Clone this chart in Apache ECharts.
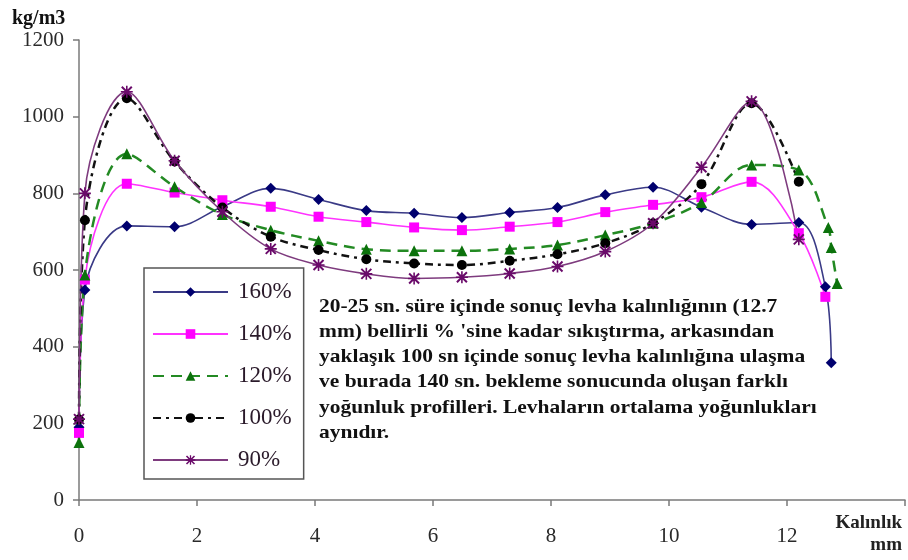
<!DOCTYPE html>
<html>
<head>
<meta charset="utf-8">
<script src="https://cdn.jsdelivr.net/npm/echarts@6/dist/echarts.min.js"></script>
<style>html,body{margin:0;padding:0;background:#fff}#c{width:908px;height:560px}</style>
</head>
<body>
<div id="c"></div>
<script>
// ---- data ----
const seriesNames = ['160%', '140%', '120%', '100%', '90%'];
const xCommon = [0, 0.1, 0.81, 1.62, 2.43, 3.25, 4.06, 4.87, 5.68, 6.49, 7.3, 8.11, 8.92, 9.73, 10.55, 11.4, 12.2];
const y160 = [190, 548, 715, 713, 765, 813, 784, 755, 748, 737, 750, 763, 796, 816, 764, 719, 724];
const x160tail = [12.65, 12.75];
const y160tail = [556, 358];
const y140 = [175, 575, 825, 802, 782, 765, 739, 725, 711, 704, 713, 725, 751, 770, 790, 830, 696];
const x140tail = [12.65];
const y140tail = [530];
const y120 = [150, 587, 903, 817, 745, 704, 676, 654, 650, 650, 655, 665, 691, 722, 776, 874, 861];
const x120tail = [12.7, 12.75, 12.85];
const y120tail = [711, 659, 565];
const y100 = [210, 730, 1048, 883, 763, 687, 652, 628, 617, 613, 624, 641, 670, 722, 824, 1035, 830];
const y90 = [211, 800, 1065, 885, 752, 655, 613, 590, 578, 581, 591, 609, 648, 722, 868, 1040, 680];
const yTicks = [0, 200, 400, 600, 800, 1000, 1200];
const xTicks = [0, 2, 4, 6, 8, 10, 12];
const noteLines = [
  '20-25 sn. süre içinde sonuç levha kalınlığının (12.7',
  'mm) bellirli % \'sine kadar sıkıştırma, arkasından',
  'yaklaşık 100 sn içinde sonuç levha kalınlığına ulaşma',
  've burada 140 sn. bekleme sonucunda oluşan farklı',
  'yoğunluk profilleri. Levhaların ortalama yoğunlukları',
  'aynıdır.'
];

function pairs(xs, ys) { return xs.map((x, i) => [x, ys[i]]); }

const serif = '"Liberation Serif", "DejaVu Serif", serif';
const starPath = 'path://M-5.7,-4.3L-4.3,-5.7L5.7,4.3L4.3,5.7Z M4.3,-5.7L5.7,-4.3L-4.3,5.7L-5.7,4.3Z M-0.8,-6L0.8,-6L0.8,6L-0.8,6Z M-6,-0.8L6,-0.8L6,0.8L-6,0.8Z';

const chart = echarts.init(document.getElementById('c'), null, { renderer: 'canvas' });
const option = {
  animation: false,
  backgroundColor: '#fff',
  grid: { left: 79, right: 0, top: 40, bottom: 60, containLabel: false },
  xAxis: {
    type: 'value', min: 0, max: 14, interval: 2,
    axisLine: { lineStyle: { color: '#7a7a7a', width: 1.5 } },
    axisTick: { show: true, length: 6, lineStyle: { color: '#7a7a7a', width: 1.5 } },
    axisLabel: {
      margin: 26, fontFamily: serif, fontSize: 21, color: '#2a2a2a',
      formatter: v => (xTicks.indexOf(v) >= 0 ? String(v) : '')
    },
    splitLine: { show: false }
  },
  yAxis: {
    type: 'value', min: 0, max: 1200, interval: 200,
    axisLine: { show: true, lineStyle: { color: '#7a7a7a', width: 1.5 } },
    axisTick: { show: true, length: 6, lineStyle: { color: '#7a7a7a', width: 1.5 } },
    axisLabel: {
      margin: 15, fontFamily: serif, fontSize: 21, color: '#2a2a2a',
      formatter: v => (yTicks.indexOf(v) >= 0 ? String(v) : '')
    },
    splitLine: { show: false }
  },
  legend: {
    orient: 'vertical', left: 144, top: 268,
    width: 150,
    padding: [12, 12, 7, 8],
    itemGap: 18, itemWidth: 75, itemHeight: 12,
    backgroundColor: '#fff',
    borderColor: '#555', borderWidth: 1.5, borderRadius: 0,
    textStyle: { fontFamily: serif, fontSize: 23, color: '#2a1a2a', lineHeight: 24, padding: [0, 0, 0, 5] },
    data: seriesNames
  },
  series: [
    {
      name: seriesNames[0], type: 'line', smooth: 0.35,
      data: pairs(xCommon.concat(x160tail), y160.concat(y160tail)),
      symbol: 'diamond', symbolSize: 11,
      lineStyle: { color: '#3a3a86', width: 1.6 },
      itemStyle: { color: '#00006e' }
    },
    {
      name: seriesNames[1], type: 'line', smooth: 0.35,
      data: pairs(xCommon.concat(x140tail), y140.concat(y140tail)),
      symbol: 'rect', symbolSize: 10,
      lineStyle: { color: '#ff33ff', width: 1.6 },
      itemStyle: { color: '#ff00ff' }
    },
    {
      name: seriesNames[2], type: 'line', smooth: 0.35,
      data: pairs(xCommon.concat(x120tail), y120.concat(y120tail)),
      symbol: 'triangle', symbolSize: 11,
      lineStyle: { color: '#238a23', width: 2.5, type: [11, 7] },
      itemStyle: { color: '#0c720c' }
    },
    {
      name: seriesNames[3], type: 'line', smooth: 0.35,
      data: pairs(xCommon, y100),
      symbol: 'circle', symbolSize: 10,
      lineStyle: { color: '#111', width: 2.5, type: [8, 5, 3, 5] },
      itemStyle: { color: '#000' }
    },
    {
      name: seriesNames[4], type: 'line', smooth: 0.35,
      data: pairs(xCommon, y90),
      symbol: starPath, symbolSize: 12,
      lineStyle: { color: '#7e3b7e', width: 1.6 },
      itemStyle: { color: '#6a0a6a' }
    }
  ],
  graphic: [
    {
      type: 'text', left: 12, top: 9,
      style: { text: 'kg/m3', font: 'bold 20px ' + serif, fill: '#111' }
    },
    {
      type: 'text', right: 6, top: 514,
      style: { text: 'Kalınlık', font: 'bold 19px ' + serif, fill: '#222', textAlign: 'right' }
    },
    {
      type: 'text', right: 6, top: 536,
      style: { text: 'mm', font: 'bold 19px ' + serif, fill: '#222', textAlign: 'right' }
    },
    {
      type: 'text', x: 319, y: 294, scaleX: 1.13, scaleY: 1,
      style: { text: noteLines.join('\n'), font: 'bold 19px ' + serif, lineHeight: 25.3, fill: '#111', verticalAlign: 'top' }
    }
  ]
};
chart.setOption(option);
</script>
</body>
</html>
